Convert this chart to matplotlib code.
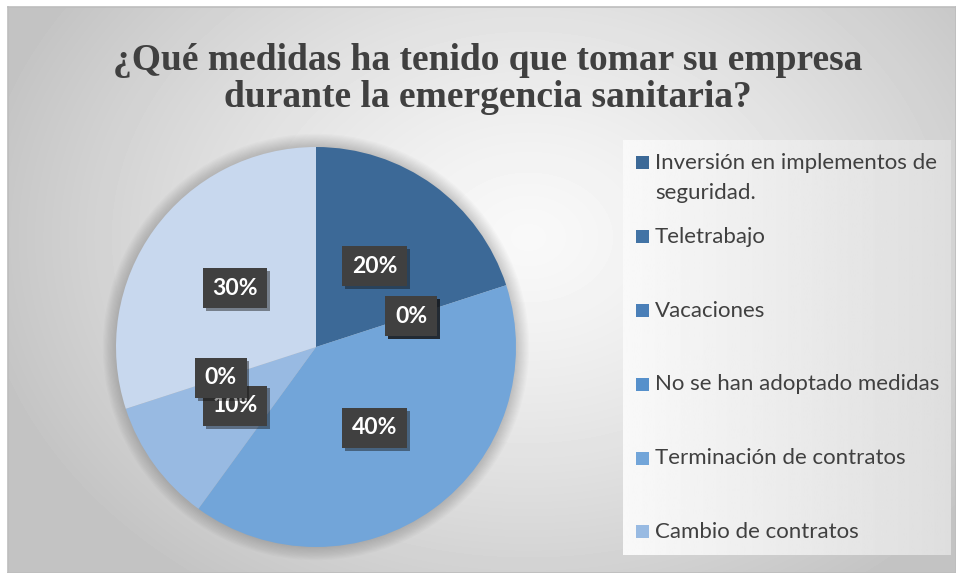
import numpy as np
import matplotlib.pyplot as plt
import matplotlib.patheffects as pe
from matplotlib.patches import Rectangle, Circle

title = "¿Qué medidas ha tenido que tomar su empresa\ndurante la emergencia sanitaria?"
categories = ["Inversión en implementos de\nseguridad.", "Teletrabajo", "Vacaciones",
              "No se han adoptado medidas", "Terminación de contratos", "Cambio de contratos"]
# pie values in drawing order (the last two series have no visible legend entry)
values = [20, 0, 0, 0, 40, 10, 0, 30]
colors = ['#3c6997', '#4273a5', '#4a7fb8', '#5690cb', '#72a5d9', '#98bae2', '#b0c9e8', '#c8d8ee']

W, H = 956, 573
fig = plt.figure(figsize=(W / 100, H / 100), dpi=100)
fig.patch.set_facecolor('white')

# chart background with radial gradient
bg = fig.add_axes([8 / W, 0, (W - 8) / W, (H - 7) / H])
bw, bh = W - 8, H - 7
yy, xx = np.mgrid[0:bh, 0:bw]
d = np.sqrt(((xx - 520) / 560.0) ** 2 + ((yy - 230) / 430.0) ** 2)
v = 0.975 - 0.21 * np.clip(d, 0, 1) ** 1.3
bg.imshow(v, cmap='gray', vmin=0, vmax=1, aspect='auto', extent=(0, bw, bh, 0))
bg.set_xticks([]); bg.set_yticks([])
for s in bg.spines.values():
    s.set_color('#bdbdbd'); s.set_linewidth(1.2)

# title
fig.text(488 / W, 1 - 79 / H, title, ha='center', va='center', family='Liberation Serif',
         fontweight='bold', fontsize=27, color='#404040', linespacing=1.08)

# pie
R = 200
ext = 1.1
ax = fig.add_axes([(316 - R * ext) / W, (H - 347 - R * ext) / H, 2 * R * ext / W, 2 * R * ext / H])
ax.set_xlim(-ext, ext); ax.set_ylim(-ext, ext); ax.set_aspect('equal'); ax.axis('off')
for k in range(12):
    ax.add_patch(Circle((0, 0), 1.0 + 0.006 * k, color='black', alpha=0.016, lw=0, zorder=0))
wedges, texts, autotexts = ax.pie(values, colors=colors, startangle=90, counterclock=False,
                                  autopct='%1.0f%%', pctdistance=0.5, radius=1.0,
                                  wedgeprops=dict(linewidth=0))
ax.set_xlim(-ext, ext); ax.set_ylim(-ext, ext)
for t in autotexts:
    t.set_family('Lato'); t.set_fontweight('bold'); t.set_fontsize(16.5); t.set_color('white')
    t.set_bbox(dict(boxstyle='square,pad=0.42', facecolor='#404040', edgecolor='none'))
    t.get_bbox_patch().set_path_effects([pe.withSimplePatchShadow(offset=(2, -2), alpha=0.45)])

# legend
L0, L1, T0, T1 = 623, 950, 140, 555
lax = fig.add_axes([L0 / W, (H - T1) / H, (L1 - L0) / W, (T1 - T0) / H])
lax.set_xlim(L0, L1); lax.set_ylim(T1, T0); lax.axis('off')
grad = np.linspace(0.975, 0.87, 200)[None, :]
lax.imshow(grad, cmap='gray', vmin=0, vmax=1, aspect='auto', extent=(L0, L1, T1, T0))
for i, name in enumerate(categories):
    y = 163 + 73.8 * i
    lax.add_patch(Rectangle((636, y - 6.5), 13, 13, facecolor=colors[i], edgecolor='none'))
    for j, line in enumerate(name.split('\n')):
        lax.text(655, y + 30 * j, line, va='center', family='Lato', fontsize=16,
                 color='#404040')
lax.set_xlim(L0, L1); lax.set_ylim(T1, T0)

fig.savefig('out.png', dpi=100)
